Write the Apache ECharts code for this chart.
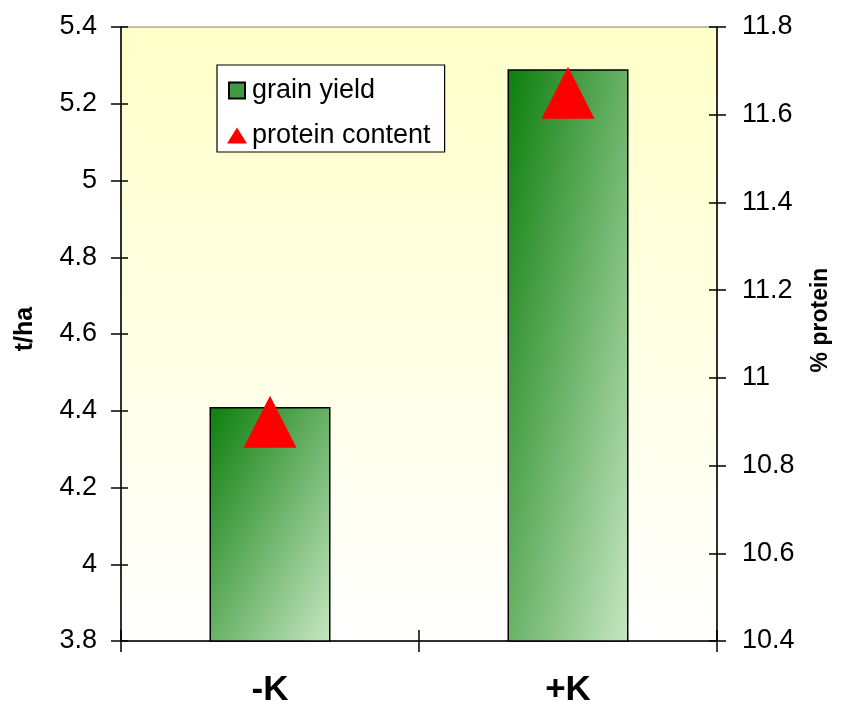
<!DOCTYPE html>
<html>
<head>
<meta charset="utf-8">
<script src="https://cdn.jsdelivr.net/npm/echarts@6/dist/echarts.min.js"></script>
<style>
html,body{margin:0;padding:0;background:#fff;}
#c{width:844px;height:708px;}
</style>
</head>
<body>
<div id="c"></div>
<script>
const categories = ['-K', '+K'];
const grainYield = [4.41, 5.29];
const proteinContent = [10.9, 11.65];
const yieldAxis = { min: 3.8, max: 5.4, interval: 0.2 };
const proteinAxis = { min: 10.4, max: 11.8, interval: 0.2 };

const FONT = "'Liberation Sans', Arial, sans-serif";
const BAR_W = 121;
const chart = echarts.init(document.getElementById('c'));

function barGradient(h, w) {
  // isolines along the bar's anti-diagonal: dark top-left, light bottom-right
  const s = h * h + w * w;
  const x2 = 2 * h * h / s, y2 = 2 * w * w / s;
  return new echarts.graphic.LinearGradient(0, 0, x2, y2, [
    { offset: 0, color: '#0c7e0c' },
    { offset: 1, color: '#c6e6c2' }
  ]);
}

function hiddenY(pos, ax, len) {
  return {
    type: 'value', position: pos, min: ax.min, max: ax.max, interval: ax.interval,
    axisLine: { show: false }, axisLabel: { show: false }, splitLine: { show: false },
    axisTick: { show: true, inside: true, length: len, lineStyle: { color: '#000', width: 1.5 } }
  };
}

chart.setOption({
  backgroundColor: '#ffffff',
  animation: false,
  textStyle: { fontFamily: FONT },
  grid: {
    left: 121, right: 127, top: 27, bottom: 65,
    show: true, borderColor: '#808080', borderWidth: 1,
    backgroundColor: new echarts.graphic.LinearGradient(0, 0, 0, 1, [
      { offset: 0, color: '#ffffc8' },
      { offset: 1, color: '#ffffff' }
    ])
  },
  legend: {
    orient: 'vertical', left: 217, top: 65,
    backgroundColor: '#ffffff', borderColor: '#000', borderWidth: 1.2,
    padding: [12, 14, 3, 10], itemGap: 18, itemWidth: 20, itemHeight: 16,
    textStyle: { fontSize: 27, color: '#000', fontFamily: FONT },
    data: [
      { name: 'grain yield', icon: 'path://M0,0L10,0L10,10L0,10Z' },
      { name: 'protein content', icon: 'triangle' }
    ]
  },
  xAxis: [
    {
      type: 'category', data: categories, position: 'bottom',
      axisLine: { lineStyle: { color: '#000', width: 1.5 } },
      axisTick: { show: true, length: 11, lineStyle: { color: '#000', width: 1.5 } },
      axisLabel: { fontSize: 35, fontWeight: 'bold', color: '#000', margin: 32, fontFamily: FONT },
      splitLine: { show: false }
    },
    {
      type: 'category', data: categories, position: 'bottom',
      axisLine: { show: false }, axisLabel: { show: false },
      axisTick: { show: true, inside: true, length: 11, lineStyle: { color: '#000', width: 1.5 } }
    }
  ],
  yAxis: [
    {
      type: 'value', position: 'left', min: yieldAxis.min, max: yieldAxis.max, interval: yieldAxis.interval,
      axisLine: { show: true, lineStyle: { color: '#000', width: 1.5 } },
      axisTick: { show: true, length: 10, lineStyle: { color: '#000', width: 1.5 } },
      axisLabel: { fontSize: 27, color: '#000', margin: 24, fontFamily: FONT },
      splitLine: { show: false }
    },
    {
      type: 'value', position: 'right', min: proteinAxis.min, max: proteinAxis.max, interval: proteinAxis.interval,
      axisLine: { show: true, lineStyle: { color: '#000', width: 1.5 } },
      axisTick: { show: true, length: 9, lineStyle: { color: '#000', width: 1.5 } },
      axisLabel: { fontSize: 27, color: '#000', margin: 25, fontFamily: FONT },
      splitLine: { show: false }
    },
    hiddenY('left', yieldAxis, 7),
    hiddenY('right', proteinAxis, 8)
  ],
  graphic: [
    { type: 'text', x: 25, y: 329, rotation: Math.PI / 2,
      style: { text: 't/ha', font: "bold 25px 'Liberation Sans', Arial, sans-serif", fill: '#000', align: 'center', verticalAlign: 'middle' } },
    { type: 'text', x: 821, y: 320, rotation: Math.PI / 2,
      style: { text: '% protein', font: "bold 23px 'Liberation Sans', Arial, sans-serif", fill: '#000', align: 'center', verticalAlign: 'middle' } }
  ],
  series: [
    {
      name: 'grain yield', type: 'bar', xAxisIndex: 0, yAxisIndex: 0,
      data: grainYield, barWidth: BAR_W,
      itemStyle: { color: '#3f9a3f', borderColor: '#000', borderWidth: 1.5 },
      z: 2
    },
    {
      name: 'protein content', type: 'scatter', xAxisIndex: 0, yAxisIndex: 1,
      data: proteinContent, symbol: 'triangle', symbolSize: [53, 52],
      itemStyle: { color: '#ff0000', opacity: 1 },
      z: 3
    }
  ]
});

// per-bar diagonal gradient, sized from the axis scale
const basePx = chart.convertToPixel({ yAxisIndex: 0 }, yieldAxis.min);
chart.setOption({
  series: [{
    name: 'grain yield',
    data: grainYield.map(function (v) {
      const h = Math.abs(basePx - chart.convertToPixel({ yAxisIndex: 0 }, v));
      return { value: v, itemStyle: { color: barGradient(h, BAR_W) } };
    })
  }]
});
</script>
</body>
</html>
